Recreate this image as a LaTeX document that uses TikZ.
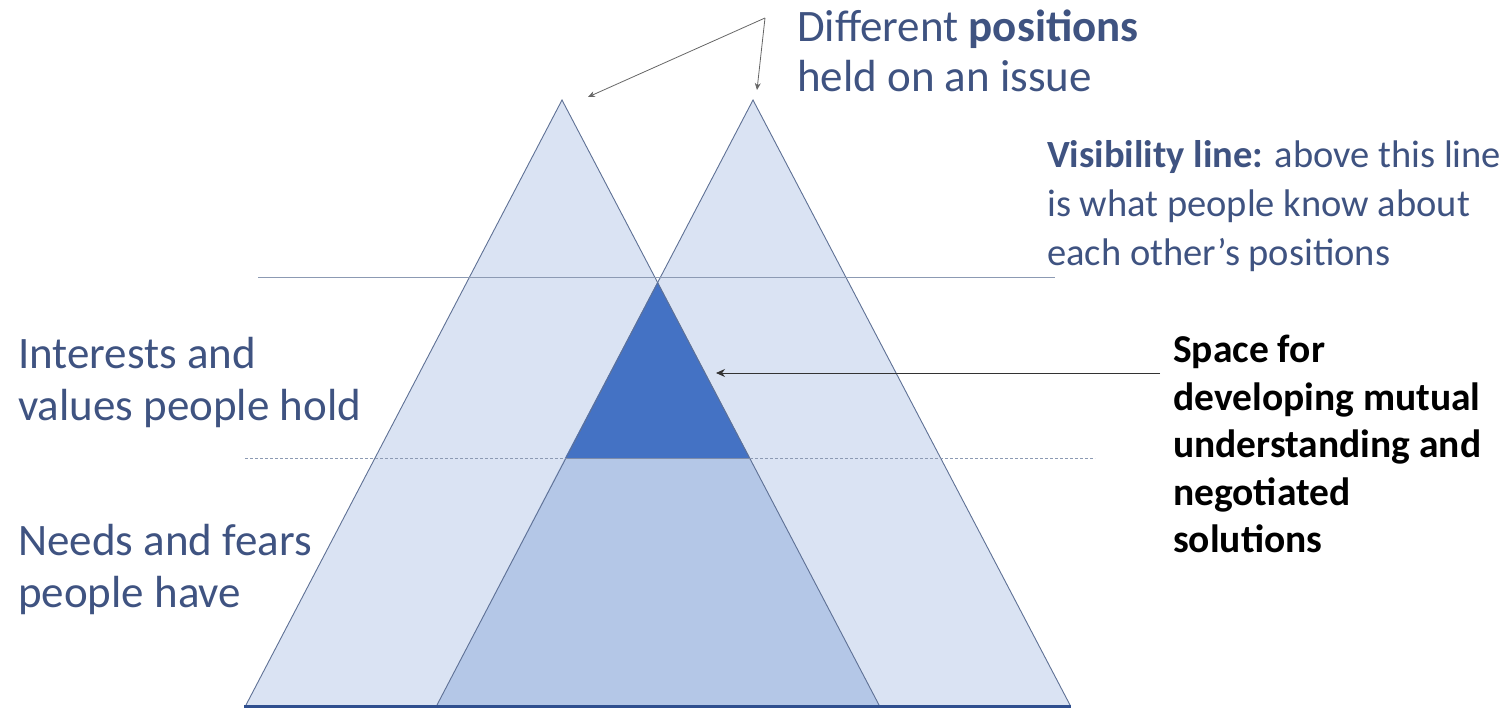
\documentclass[tikz,border=0pt]{standalone}
\usepackage{fontspec}
\setmainfont{Carlito}
\usetikzlibrary{arrows.meta}
\definecolor{lightfill}{HTML}{DAE3F3}
\definecolor{midfill}{HTML}{B4C7E7}
\definecolor{darkfill}{HTML}{4472C4}
\definecolor{edgecol}{HTML}{5F7195}
\definecolor{txtcol}{HTML}{3F5381}
\definecolor{basecol}{HTML}{2F4F8F}
\definecolor{guidecol}{HTML}{8C9AB3}
\tikzset{
  tri/.style={draw=edgecol, line width=0.9pt, line join=miter},
  guide/.style={draw=guidecol, line width=0.8pt},
  pointer/.style={draw=gray!80!black, line width=0.8pt, -{Stealth[length=7pt,width=6pt]}},
  blackpointer/.style={draw=black!80, line width=0.8pt, -{Stealth[length=9pt,width=8pt]}},
  bluetext/.style={text=txtcol, align=left, inner sep=0pt, anchor=west},
}
\begin{document}
\begin{tikzpicture}[x=1pt,y=-1pt]
\useasboundingbox (0,0) rectangle (1512,708);
% triangles
\fill[lightfill] (562,100) -- (246,705) -- (879,705) -- cycle;
\fill[lightfill] (753,100) -- (437,705) -- (1070,705) -- cycle;
% lens lower part
\fill[midfill] (565,458) -- (750,458) -- (879,705) -- (437,705) -- cycle;
% dark triangle
\fill[darkfill] (657.5,282) -- (750,458) -- (565,458) -- cycle;
% outlines
\draw[tri] (246,705) -- (562,100) -- (879,705);
\draw[tri] (437,705) -- (753,100) -- (1070,705);
\draw[draw=edgecol!80, line width=0.6pt] (565,458) -- (750,458);
% visibility line
\draw[guide] (258,277) -- (1055,277);
% dashed line
\draw[guide, dash pattern=on 3pt off 2pt, line width=0.6pt] (245,458) -- (565,458);
\draw[guide, dash pattern=on 3pt off 2pt, line width=0.6pt] (750,458) -- (1095,458);
% base line
\draw[basecol, line width=3pt] (244,706) -- (1071,706);

% texts
\node[bluetext, font={\fontsize{45}{50}\selectfont}] (diff) at (797,51) {Different \textbf{positions}\\held on an issue};
\node[bluetext, font={\fontsize{45}{52}\selectfont}] (interests) at (18,383) {Interests and\\values people hold};
\node[bluetext, font={\fontsize{45}{52}\selectfont}] (needs) at (18,570) {Needs and fears\\people have};
\node[bluetext, font={\fontsize{38.5}{49}\selectfont}] (vis) at (1047,206) {\textbf{Visibility line:} above this line\\is what people know about\\each other’s positions};
\node[align=left, inner sep=0pt, anchor=west, text=black, font={\fontsize{39.5}{47.5}\selectfont\bfseries}] (space) at (1173,444) {Space for\\developing mutual\\understanding and\\negotiated\\solutions};

% pointers
\coordinate (dstart) at (765,18);
\coordinate (tipL) at (588,97);
\coordinate (tipR) at (757,90);
\draw[pointer] (dstart) -- (tipL);
\draw[pointer] (dstart) -- (tipR);
\coordinate (sstart) at (1160,373);
\coordinate (stip) at (716,373);
\draw[blackpointer] (sstart) -- (stip);
\end{tikzpicture}
\end{document}
